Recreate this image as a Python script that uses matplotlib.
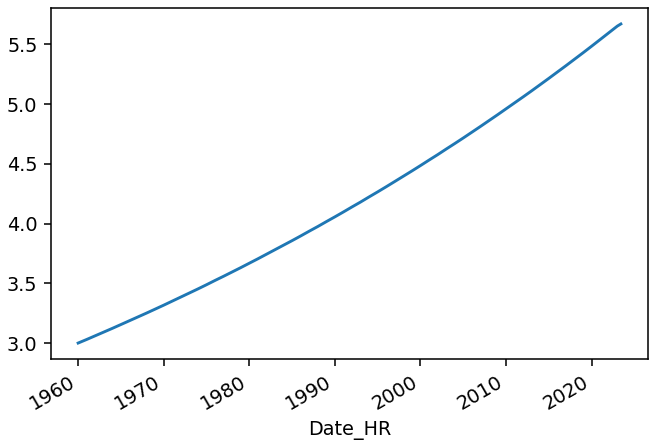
import pandas as pd
import matplotlib
matplotlib.use("Agg")
import matplotlib.pyplot as plt
import matplotlib.dates as mdates

# значения по годам
years = list(range(1960, 2024))
values = [3.000, 3.030, 3.061, 3.092, 3.123, 3.155, 3.187, 3.219, 3.251, 3.284,
          3.317, 3.351, 3.385, 3.419, 3.453, 3.488, 3.524, 3.559, 3.595, 3.631,
          3.668, 3.705, 3.743, 3.781, 3.819, 3.857, 3.896, 3.936, 3.975, 4.016,
          4.056, 4.097, 4.139, 4.180, 4.223, 4.265, 4.308, 4.352, 4.396, 4.440,
          4.485, 4.531, 4.576, 4.623, 4.669, 4.716, 4.764, 4.812, 4.861, 4.910,
          4.960, 5.010, 5.060, 5.111, 5.163, 5.215, 5.268, 5.321, 5.375, 5.429,
          5.484, 5.540, 5.596, 5.652]
end_date = "2023-06-01"
end_value = 5.670

dates = pd.to_datetime([f"{y}-01-01" for y in years] + [end_date])
vals = values + [end_value]

dpi = 139
fig = plt.figure(figsize=(649 / dpi, 442 / dpi), dpi=dpi)
ax = fig.add_axes([51 / 649, 1 - 359 / 442, 597 / 649, 351 / 442])
ax.plot(dates, vals, color="C0", linewidth=1.5)
ax.set_xlabel("Date_HR")
ax.xaxis.set_major_locator(mdates.YearLocator(10))
ax.xaxis.set_major_formatter(mdates.DateFormatter("%Y"))
for lbl in ax.get_xticklabels():
    lbl.set_rotation(30)
    lbl.set_ha("right")
ax.set_yticks([3.0, 3.5, 4.0, 4.5, 5.0, 5.5])
fig.savefig("out.png", dpi=dpi)
